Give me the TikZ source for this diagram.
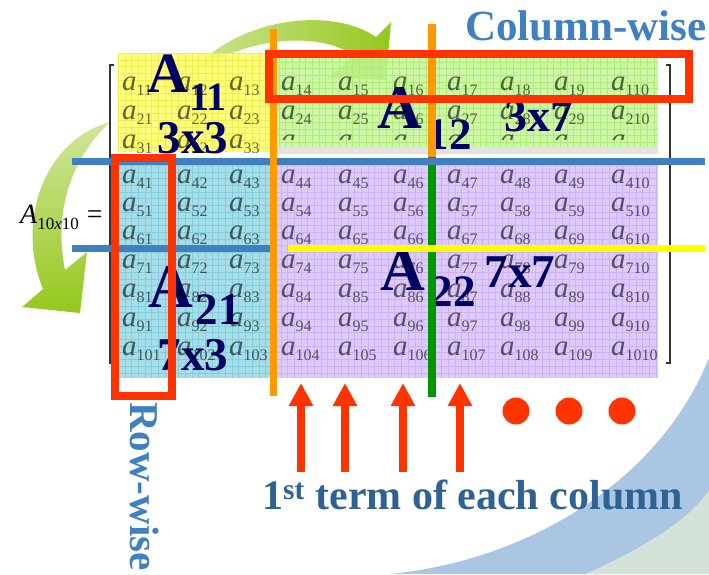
\documentclass[tikz,border=0pt]{standalone}
\usepackage{fontspec}
\setmainfont{Liberation Serif}
\usetikzlibrary{arrows.meta}
\definecolor{navyc}{RGB}{0,0,102}
\definecolor{redc}{RGB}{255,51,0}
\definecolor{orangec}{RGB}{255,153,0}
\definecolor{greenc}{RGB}{0,150,0}
\definecolor{bluec}{RGB}{64,128,192}
\definecolor{yellowc}{RGB}{255,255,0}
\definecolor{termc}{RGB}{46,98,148}
\definecolor{yblk}{RGB}{255,255,100}
\definecolor{gblk}{RGB}{196,245,150}
\definecolor{cblk}{RGB}{165,222,232}
\definecolor{pblk}{RGB}{222,202,252}
\definecolor{ygrd}{RGB}{238,238,80}
\definecolor{ggrd}{RGB}{176,234,122}
\definecolor{cgrd}{RGB}{132,206,220}
\definecolor{pgrd}{RGB}{206,178,248}
\definecolor{arlight}{RGB}{208,230,155}
\definecolor{ardark}{RGB}{150,200,30}
\definecolor{bgblue}{RGB}{170,198,226}
\definecolor{bggreen}{RGB}{212,226,216}
\newcommand\ent[1]{{\fontsize{29}{29}\selectfont\itshape a}\raisebox{-5pt}{\fontsize{16}{16}\selectfont #1}}
\begin{document}
\begin{tikzpicture}[x=1pt,y=-1pt,
  entry/.style={anchor=base west,inner sep=0pt,text=black,text opacity=0.6},
  bigA/.style={inner sep=0pt,text=navyc,font=\bfseries\fontsize{62}{62}\selectfont},
  bigS/.style={inner sep=0pt,text=navyc,font=\bfseries\fontsize{45}{45}\selectfont},
  bigD/.style={inner sep=0pt,text=navyc,font=\bfseries\fontsize{47}{47}\selectfont},
  thick line/.style={line width=7pt},
  redbox/.style={draw=redc,line width=8pt},
  redarrow/.style={draw=redc,line width=8pt,-{Triangle[width=23pt,length=23pt]}},
  dot/.style={circle,fill=redc,minimum size=27pt,inner sep=0pt},
  bracket/.style={draw=black!80,line width=1.4pt},
  gridln/.style={line width=0.4pt}
]
\useasboundingbox (0,0) rectangle (709,574);
% background
\fill[bgblue] (390,574) .. controls (530,560) and (660,480) .. (709,358) -- (709,574) -- cycle;
\fill[bggreen] (585,574) .. controls (640,550) and (690,520) .. (709,490) -- (709,574) -- cycle;
% green curved arrows
\shade[left color=arlight,right color=ardark]
  (185,80) .. controls (230,18) and (330,5) .. (376,37) -- (391,22) -- (386,80) -- (328,78) -- (354,56)
  .. controls (320,30) and (240,36) .. (185,80) -- cycle;
\shade[top color=arlight,bottom color=ardark]
  (110,122) .. controls (45,140) and (15,220) .. (43,289) -- (22,307) -- (80,313) -- (87,252) -- (65,270)
  .. controls (55,220) and (65,165) .. (110,122) -- cycle;
% blocks
\fill[yblk,opacity=0.85] (118,53) rectangle (272,152);
\fill[gblk,opacity=0.85] (272,55) rectangle (658,147);
\fill[black!25,opacity=0.45] (272,147) rectangle (658,154);
\fill[cblk] (118,165) rectangle (272,378);
\fill[pblk] (274,165) rectangle (658,378);
\begin{scope}
\clip (118,53) rectangle (272,152);
\foreach \gx in {118,124.7,...,272} \draw[ygrd,gridln] (\gx,53) -- (\gx,152);
\foreach \gy in {53,59.7,...,152} \draw[ygrd,gridln] (118,\gy) -- (272,\gy);
\end{scope}
\begin{scope}
\clip (272,55) rectangle (658,147);
\foreach \gx in {272,278.7,...,658} \draw[ggrd,gridln] (\gx,55) -- (\gx,147);
\foreach \gy in {55,61.7,...,147} \draw[ggrd,gridln] (272,\gy) -- (658,\gy);
\end{scope}
\begin{scope}
\clip (118,165) rectangle (272,378);
\foreach \gx in {118,124.7,...,272} \draw[cgrd,gridln] (\gx,165) -- (\gx,378);
\foreach \gy in {165,171.7,...,378} \draw[cgrd,gridln] (118,\gy) -- (272,\gy);
\end{scope}
\begin{scope}
\clip (274,165) rectangle (658,378);
\foreach \gx in {274,280.7,...,658} \draw[pgrd,gridln] (\gx,165) -- (\gx,378);
\foreach \gy in {165,171.7,...,378} \draw[pgrd,gridln] (274,\gy) -- (658,\gy);
\end{scope}
% brackets
\draw[bracket] (114,65) -- (110,65) -- (110,363) -- (114,363);
\draw[bracket] (666,65) -- (670,65) -- (670,363) -- (666,363);
% left-hand side
\node[anchor=base west,inner sep=0pt] (lhs) at (20,223)
  {{\fontsize{28}{28}\selectfont\itshape A}\raisebox{-6pt}{\fontsize{17}{17}\selectfont 10\textit{x}10}\hspace{8pt}{\fontsize{28}{28}\selectfont =}};
% big block labels
\node[bigA,font=\bfseries\fontsize{57}{57}\selectfont] (A11) at (168,74) {A};
\node[bigS,font=\bfseries\fontsize{40}{40}\selectfont] (s11) at (208,97) {11};
\node[bigD] (d11) at (193,138) {3x3};
\node[bigA] (A12) at (400,108) {A};
\node[bigS] (s12) at (449,135) {12};
\node[bigD,font=\bfseries\fontsize{46}{46}\selectfont] (d12) at (539,116) {3x7};
\node[bigA] (A21) at (171,287) {A};
\node[bigS] (s21) at (218,310) {21};
\node[bigD] (d21) at (193,355) {7x3};
\node[bigA] (A22) at (403,270) {A};
\node[bigS] (s22) at (453,292) {22};
\node[bigD] (d22) at (520,272) {7x7};
% entries
\foreach \i/\y in {1/90,2/119,4/183,5/211,6/239,7/268,8/297,9/326,10/355} {
  \foreach \j/\x in {1/122,2/177,3/229,4/281,5/338,6/393,7/447,8/500,9/554,10/611} {
    \node[entry] (e\i-\j) at (\x,\y) {\ent{\i\j}};
  }
}
\begin{scope}
\clip (118,120) rectangle (272,152);
\foreach \j/\x in {1/122,2/177,3/229} {\node[entry] (e3-\j) at (\x,148) {\ent{3\j}};}
\end{scope}
\begin{scope}
\clip (272,120) rectangle (658,139);
\foreach \j/\x in {4/281,5/338,6/393,7/447,8/500,9/554,10/611} {\node[entry] (e3-\j) at (\x,148) {\ent{3\j}};}
\end{scope}
% partition lines
\draw[greenc,line width=8pt] (432,155) -- (432,397);
\draw[orangec,line width=8pt] (432,24) -- (432,157);
\draw[bluec,thick line] (72,161) -- (705,161);
\draw[bluec,thick line] (72,248) -- (273,248);
\draw[yellowc,thick line] (288,248) -- (705,248);
\draw[orangec,thick line] (273,29) -- (273,396);
% red boxes
\draw[redbox] (269,54) rectangle (689,99);
\draw[redbox] (115,158) rectangle (172,396);
% arrows to first terms
\foreach \k/\x in {1/301,2/345,3/403,4/460} {
  \coordinate (tip\k) at (\x,383);
  \coordinate (tail\k) at (\x,472);
  \draw[redarrow] (tail\k) -- (tip\k);
}
\node[dot] (dot1) at (516,411) {};
\node[dot] (dot2) at (569,411) {};
\node[dot] (dot3) at (622,411) {};
% texts
\node[anchor=base west,inner sep=0pt,text=bluec,font=\bfseries\fontsize{43}{43}\selectfont] (colwise) at (465,40) {Column-wise};
\node[anchor=base west,inner sep=0pt,rotate=-90,text=bluec,font=\bfseries\fontsize{41}{41}\selectfont] (rowwise) at (130,402) {Row-wise};
\node[anchor=base west,inner sep=0pt,text=termc,font=\bfseries\fontsize{42}{42}\selectfont] (first) at (262,509) {1\textsuperscript{st} term of each column};
\end{tikzpicture}
\end{document}
